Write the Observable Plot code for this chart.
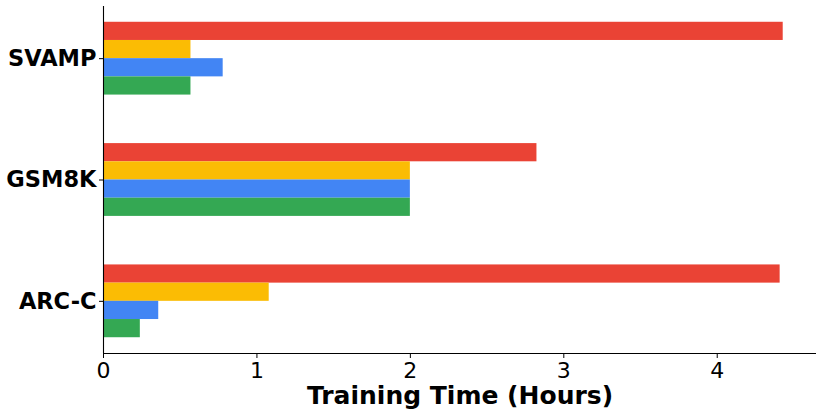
<!DOCTYPE html>
<html>
<head>
<meta charset="utf-8">
<script src="https://cdn.jsdelivr.net/npm/d3@7"></script>
<script src="https://cdn.jsdelivr.net/npm/@observablehq/plot@0.6"></script>
<style>
  html, body { margin: 0; padding: 0; background: #fff; }
  #chart svg [aria-label^="y-axis"] text { font-weight: bold; font-size: 22.5px; }
  #chart svg [aria-label^="x-axis"] text { font-size: 22px; }
</style>
</head>
<body>
<div id="chart"></div>
<script>
// Categories, top to bottom
const categories = ["SVAMP", "GSM8K", "ARC-C"];
// Four series (no legend in the source), top bar to bottom bar in each group
const series = ["Series 1", "Series 2", "Series 3", "Series 4"];
const seriesColors = ["#EA4335", "#FBBC04", "#4285F4", "#34A853"];
// Training time (hours), per category, in series order
const svampHours = [4.43, 0.57, 0.78, 0.57];
const gsm8kHours = [2.825, 2.0, 2.0, 2.0];
const arccHours  = [4.41, 1.08, 0.36, 0.24];
const xTicks = [0, 1, 2, 3, 4];
const xLabel = "Training Time (Hours)";

const valuesByCategory = [svampHours, gsm8kHours, arccHours];
const rows = [];
categories.forEach((cat, i) => {
  series.forEach((s, j) => {
    rows.push({ cat, i, series: s, j, hours: valuesByCategory[i][j] });
  });
});

const barH = 0.15;
const chart = Plot.plot({
  width: 823,
  height: 417,
  marginLeft: 103,
  marginRight: 7,
  marginTop: 6,
  marginBottom: 64,
  style: { fontFamily: "DejaVu Sans", fontSize: "22px", color: "#000", background: "#fff" },
  x: { domain: [0, 4.647], ticks: xTicks, tickFormat: d3.format("d"), tickSize: 5, tickPadding: 4, label: null },
  y: { domain: [2.43, -0.43], ticks: [0, 1, 2], tickFormat: i => categories[i], tickSize: 4, tickPadding: 3, label: null },
  color: { domain: series, range: seriesColors },
  marks: [
    Plot.rect(rows, {
      x1: () => 0,
      x2: "hours",
      y1: d => d.i + (d.j - 2) * barH,
      y2: d => d.i + (d.j - 1) * barH,
      fill: "series"
    }),
    Plot.ruleX([0], { stroke: "#000", strokeWidth: 1.1 }),
    Plot.ruleY([2.43], { stroke: "#000", strokeWidth: 1.1 }),
    Plot.text([xLabel], {
      text: d => d,
      frameAnchor: "bottom",
      dy: 50,
      fontSize: 25,
      fontWeight: "bold",
      fill: "#000"
    })
  ]
});
document.getElementById("chart").appendChild(chart);
</script>
</body>
</html>
